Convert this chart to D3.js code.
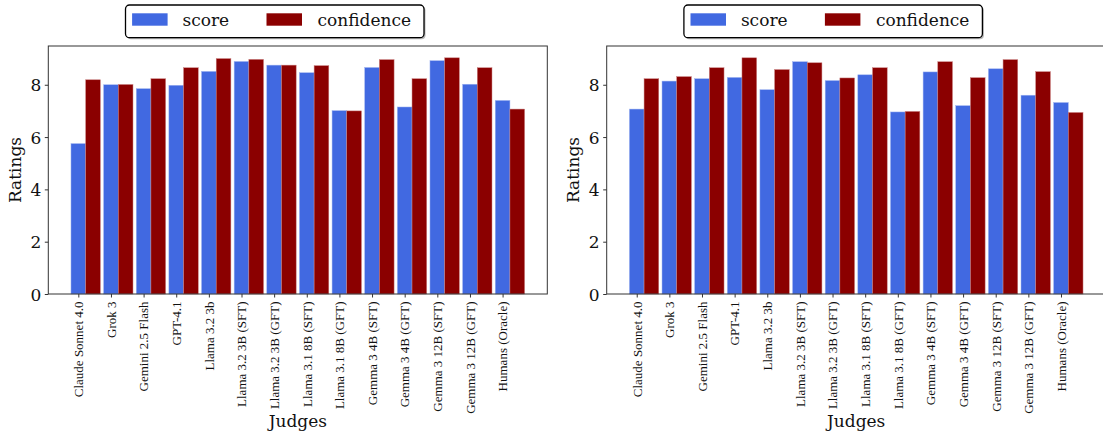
<!DOCTYPE html>
<html><head><meta charset="utf-8">
<script src="https://cdn.jsdelivr.net/npm/d3@7"></script>
<style>body{margin:0;background:#fff}svg{display:block}</style>
</head><body>
<svg id="c" width="1103" height="436"></svg>
<script>
const categories = ["Claude Sonnet 4.0","Grok 3","Gemini 2.5 Flash","GPT-4.1","Llama 3.2 3b","Llama 3.2 3B (SFT)","Llama 3.2 3B (GFT)","Llama 3.1 8B (SFT)","Llama 3.1 8B (GFT)","Gemma 3 4B (SFT)","Gemma 3 4B (GFT)","Gemma 3 12B (SFT)","Gemma 3 12B (GFT)","Humans (Oracle)"];
const leftScore  = [5.75, 8.00, 7.85, 7.98, 8.51, 8.89, 8.75, 8.46, 7.01, 8.66, 7.15, 8.92, 8.02, 7.40];
const leftConf   = [8.19, 8.01, 8.23, 8.65, 9.00, 8.97, 8.75, 8.73, 7.00, 8.96, 8.23, 9.03, 8.65, 7.07];
const rightScore = [7.07, 8.14, 8.23, 8.28, 7.81, 8.88, 8.16, 8.38, 6.96, 8.49, 7.20, 8.61, 7.60, 7.32];
const rightConf  = [8.23, 8.31, 8.65, 9.03, 8.58, 8.84, 8.26, 8.65, 6.98, 8.88, 8.27, 8.96, 8.50, 6.94];
const seriesNames = ["score", "confidence"];
const seriesColors = ["#4169E1", "#8B0000"];
const yTicks = [0, 2, 4, 6, 8];
const xLabel = "Judges", yLabel = "Ratings";

const svg = d3.select("#c");
const W = 499, H = 248, TOP = 46;
const serif = "'DejaVu Serif', serif";
const barW = 0.45;

function panel(x0, score, conf) {
  const g = svg.append("g").attr("transform", `translate(${x0},${TOP})`);
  const n = categories.length;
  const lo = -barW/2, hi = (n-1) + barW*1.5, m = (hi-lo)*0.05;
  const x = d3.scaleLinear().domain([lo-m, hi+m]).range([0, W]);
  const ymax = d3.max(score.concat(conf)) * 1.05;
  const y = d3.scaleLinear().domain([0, ymax]).range([H, 0]);
  const pw = x(barW) - x(0);
  [score, conf].forEach((vals, s) => {
    g.append("g").selectAll("rect").data(vals).join("rect")
      .attr("x", (d,i) => x(i + s*barW - barW/2))
      .attr("width", pw)
      .attr("y", d => y(d))
      .attr("height", d => H - y(d))
      .attr("fill", seriesColors[s])
      .attr("stroke", s === 0 ? "#9fb4f0" : "#c98080")
      .attr("stroke-width", 0.5);
  });
  // axes
  const ya = d3.axisLeft(y).tickValues(yTicks).tickSize(3.5).tickPadding(3.5).tickFormat(d3.format("d"));
  const yg = g.append("g").call(ya);
  yg.select(".domain").remove();
  yg.selectAll("line").attr("stroke", "#333");
  yg.selectAll("text").attr("font-family", serif).attr("font-size", 17).attr("fill", "#111").attr("dy", "0.36em");
  const xa = d3.axisBottom(x).tickValues(d3.range(n)).tickSize(3.5).tickPadding(4).tickFormat(i => categories[i]);
  const xg = g.append("g").attr("transform", `translate(0,${H})`).call(xa);
  xg.select(".domain").remove();
  xg.selectAll("line").attr("stroke", "#333");
  xg.selectAll("text")
    .attr("font-family", "'Liberation Serif', 'Times New Roman', serif").attr("font-size", 13).attr("fill", "#111")
    .attr("text-anchor", "end")
    .attr("transform", "rotate(-90)")
    .attr("x", -7.5).attr("y", 0).attr("dy", "0.33em");
  // frame
  g.append("rect").attr("x", 0).attr("y", 0).attr("width", W).attr("height", H)
    .attr("fill", "none").attr("stroke", "#333").attr("stroke-width", 1);
  // labels
  g.append("text").attr("transform", `translate(-27.5,${H/2}) rotate(-90)`)
    .attr("text-anchor", "middle").attr("font-family", serif).attr("font-size", 17).attr("fill", "#111").text(yLabel);
  g.append("text").attr("x", W/2).attr("y", 381)
    .attr("text-anchor", "middle").attr("font-family", serif).attr("font-size", 17).attr("fill", "#111").text(xLabel);
  // legend
  const lg = svg.append("g").attr("transform", `translate(${x0 + 77.2},5)`);
  lg.append("rect").attr("x", 1.5).attr("y", 1.5).attr("width", 298.5).attr("height", 32.7).attr("rx", 4)
    .attr("fill", "#888").attr("opacity", 0.6);
  lg.append("rect").attr("x", 0).attr("y", 0).attr("width", 298.5).attr("height", 32.7).attr("rx", 4)
    .attr("fill", "#fff").attr("stroke", "#000").attr("stroke-width", 1.3);
  const px = [6.6, 141], tx = [57, 192];
  seriesNames.forEach((nm, s) => {
    lg.append("rect").attr("x", px[s]).attr("y", 8.3).attr("width", 35.5).attr("height", 12.4).attr("fill", seriesColors[s]);
    lg.append("text").attr("x", tx[s]).attr("y", 21).attr("font-family", serif).attr("font-size", 17).attr("fill", "#111").text(nm);
  });
}
panel(48.3, leftScore, leftConf);
panel(606.7, rightScore, rightConf);
</script>
</body></html>
